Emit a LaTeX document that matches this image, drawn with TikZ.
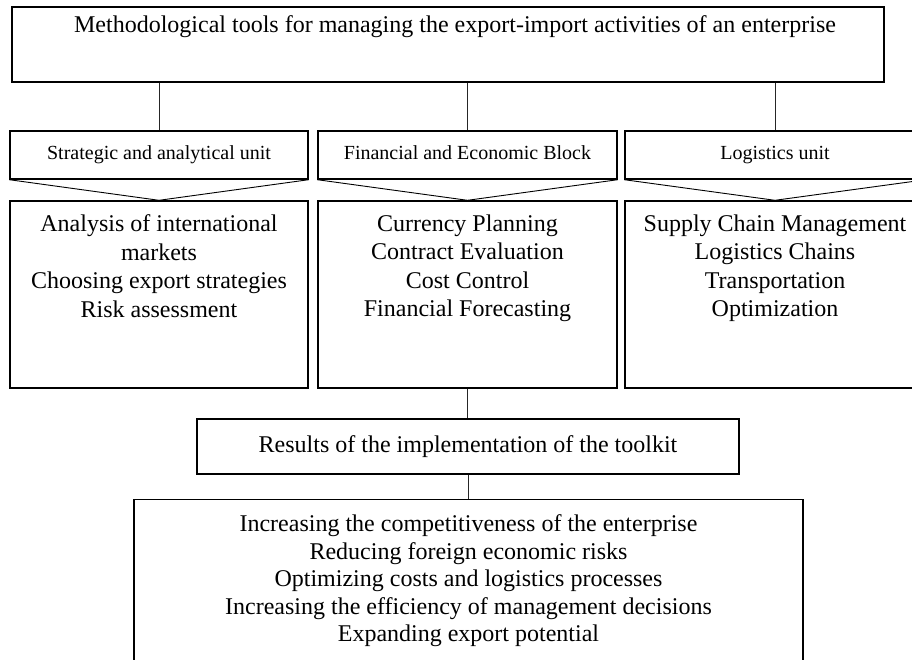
\documentclass[tikz,border=0pt]{standalone}
\usepackage{fontspec}
\setmainfont{Liberation Serif}
\usepackage{xcolor}
\usepackage{tikz}

\begin{document}
\begin{tikzpicture}[x=1pt,y=-1pt,
kasten/.style={draw, line width=1.4pt, inner sep=0pt},
kopf/.style={kasten, minimum height=48pt, text height=13.7pt, text depth=4.3pt, font=\fontsize{20}{24}\selectfont},
liste/.style={align=center, inner sep=0pt, anchor=north, font=\fontsize{24}{28.5}\selectfont},
spitze/.style={line width=0.9pt},
linie/.style={line width=0.6pt, black!85},
]
\useasboundingbox (0,0) rectangle (912,659);
\clip (0,0) rectangle (912,659);

% top box
\node[kasten, minimum width=872pt, minimum height=75pt] (tools) at (448,44.5) {};
\node[liste] (toolsname) at (455,15.6) {Methodological tools for managing the export-import activities of an enterprise};

% the three units
\node[kopf, minimum width=298pt] (strat) at (159,155) {Strategic and analytical unit};
\node[kopf, minimum width=299pt] (fin) at (467.5,155) {Financial and Economic Block};
\node[kopf, minimum width=300pt] (logi) at (775,155) {Logistics unit};

\draw[linie] (tools.south -| strat.north) -- (strat.north);
\draw[linie] (tools.south -| fin.north) -- (fin.north);
\draw[linie] (tools.south -| logi.north) -- (logi.north);

\node[kasten, minimum width=298pt, minimum height=187pt] (stratbody) at (159,294.5) {};
\node[kasten, minimum width=299pt, minimum height=187pt] (finbody) at (467.5,294.5) {};
\node[kasten, minimum width=300pt, minimum height=187pt] (logibody) at (775,294.5) {};

\draw[spitze] (strat.south west) -- (stratbody.north) -- (strat.south east);
\draw[spitze] (fin.south west) -- (finbody.north) -- (fin.south east);
\draw[spitze] (logi.south west) -- (logibody.north) -- (logi.south east);

\node[liste] (stratlist) at (159,214.6) {Analysis of international\\markets\\Choosing export strategies\\Risk assessment};
\node[liste] (finlist) at (467.5,214.6) {Currency Planning\\Contract Evaluation\\Cost Control\\Financial Forecasting};
\node[liste] (logilist) at (775,214.6) {Supply Chain Management\\Logistics Chains\\Transportation\\Optimization};

% results
\node[kasten, minimum width=542pt, minimum height=55pt, font=\fontsize{24}{28}\selectfont] (result) at (468,446.5) {Results of the implementation of the toolkit};
\draw[linie] (finbody.south) -- (finbody.south |- result.north);

\node[kasten, minimum width=669pt, minimum height=200pt, anchor=north] (effekt) at (468.5,499) {};
\node[liste, font=\fontsize{24}{27.5}\selectfont] (effektlist) at (468.5,514.6) {Increasing the competitiveness of the enterprise\\Reducing foreign economic risks\\Optimizing costs and logistics processes\\Increasing the efficiency of management decisions\\Expanding export potential};
\draw[linie] (result.south) -- (result.south |- effekt.north);

\end{tikzpicture}
\end{document}
